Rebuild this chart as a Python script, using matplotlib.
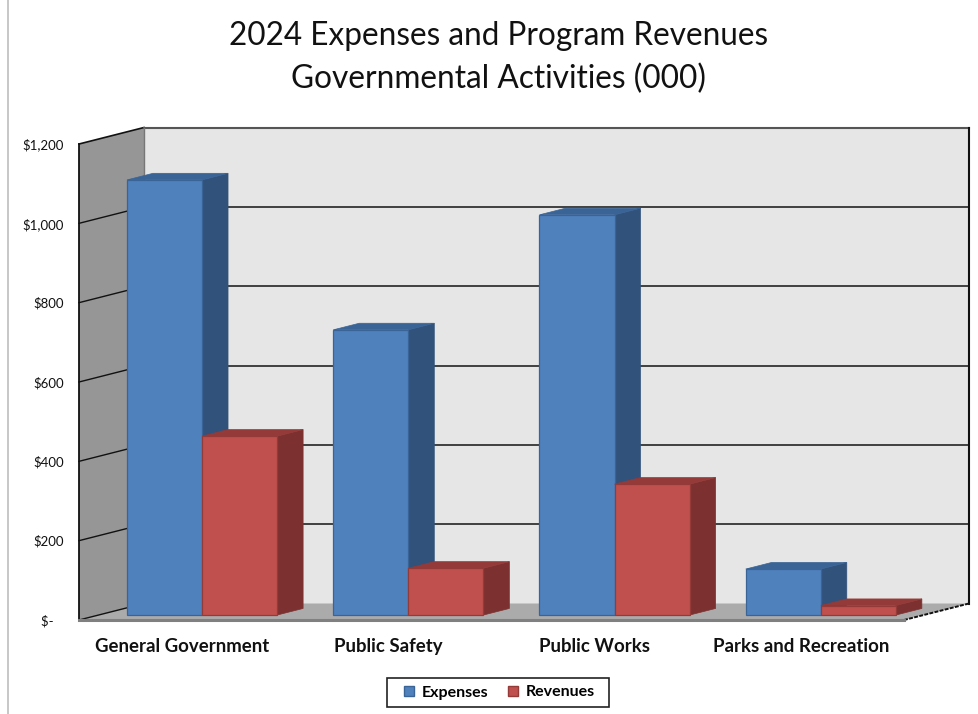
# Pseudo-3D clustered columns for the governmental activities summary

import matplotlib
matplotlib.use("Agg")
import matplotlib.pyplot as plt
from matplotlib.patches import Polygon, Patch, Rectangle

categories = ["General Government", "Public Safety", "Public Works", "Parks and Recreation"]
expenses = [1097, 719, 1009, 116]
revenues = [451, 118, 330, 24]
y_ticks = [0, 200, 400, 600, 800, 1000, 1200]
y_labels = ["$-   ", "$200", "$400", "$600", "$800", "$1,000", "$1,200"]

W, H = 979, 714
plt.rcParams["font.family"] = ["Lato", "DejaVu Sans"]

fig = plt.figure(figsize=(W / 100, H / 100), dpi=100)
# axes box is the front plane of the chart box
ax = fig.add_axes([79 / W, 1 - 620 / H, 825 / W, 476 / H])
ax.set_xlim(0, 4)
ax.set_ylim(0, 1200)

# full depth of the box in data units
DEPTH_X = 65 / 825 * 4
DEPTH_Y = 16.5 / 476 * 1200


def project(x, y, d):
    # oblique projection, d runs 0 (front) to 1 (back)
    return (x + d * DEPTH_X, y + d * DEPTH_Y)


def face(points, **kw):
    kw.setdefault("clip_on", False)
    p = Polygon([project(*pt) for pt in points], closed=True, **kw)
    ax.add_patch(p)
    return p


def line3d(points, **kw):
    xy = [project(*pt) for pt in points]
    ax.plot([q[0] for q in xy], [q[1] for q in xy], clip_on=False, **kw)


# back wall, side wall, floor
face([(0, 0, 1), (4, 0, 1), (4, 1200, 1), (0, 1200, 1)], fc="#e6e6e6", ec="none", zorder=1)
face([(0, 0, 0), (0, 0, 1), (0, 1200, 1), (0, 1200, 0)], fc="#969696", ec="none", zorder=1)
face([(0, 0, 0), (4, 0, 0), (4, 0, 1), (0, 0, 1)], fc="#ababab", ec="none", zorder=1)

# gridlines run along the side wall and across the back
for v in y_ticks[1:-1]:
    line3d([(0, v, 0), (0, v, 1)], color="#111111", lw=1.0, zorder=2)
    line3d([(0, v, 1), (4, v, 1)], color="#333333", lw=1.3, zorder=2)
line3d([(0, 1200, 0), (0, 1200, 1)], color="#111111", lw=1.2, zorder=2)
line3d([(0, 1200, 1), (4, 1200, 1)], color="#555555", lw=1.5, zorder=2)
line3d([(0, 0, 1), (0, 1200, 1)], color="#777777", lw=1.0, zorder=2)
line3d([(0, 0, 0), (0, 1200, 0)], color="#111111", lw=1.3, zorder=2)
line3d([(0, 0, 0), (0, 0, 1)], color="#111111", lw=1.0, zorder=2)
line3d([(4, 0, 1), (4, 1200, 1)], color="#111111", lw=1.5, zorder=2)
line3d([(4, 0, 0), (4, 0, 1)], color="#111111", lw=1.4, ls=(0, (2, 0.7)), zorder=2)
line3d([(0, 0, 0), (4, 0, 0)], color="#808080", lw=2.2, zorder=2)


def column(x0, x1, val, front, side, top, z):
    d0, d1 = 0.3, 0.7
    face([(x1, 0, d0), (x1, 0, d1), (x1, val, d1), (x1, val, d0)], fc=side, ec=side, lw=0.5, zorder=z)
    face([(x0, val, d0), (x1, val, d0), (x1, val, d1), (x0, val, d1)], fc=top, ec=top, lw=0.5, zorder=z)
    face([(x0, 0, d0), (x1, 0, d0), (x1, val, d0), (x0, val, d0)], fc=front, ec=top, lw=0.9, zorder=z + 0.1)


BAR_W = 0.364
for i in range(len(categories)):
    left = i + 0.138
    # draw back-to-front in x so the red block sits over the blue side
    column(left, left + BAR_W, expenses[i], "#4f81bd", "#31527b", "#3a6496", 3 + i * 0.5)
    column(left + BAR_W, left + 2 * BAR_W, revenues[i], "#c0504d", "#7c3130", "#943a38", 3.2 + i * 0.5)

for s in ax.spines.values():
    s.set_visible(False)
ax.patch.set_visible(False)

ax.set_yticks(y_ticks)
ax.set_yticklabels(y_labels, fontsize=9.5, color="#111111")
ax.tick_params(axis="y", length=0, pad=11)

ax.set_xticks([i + 0.5 for i in range(len(categories))])
ax.set_xticklabels(categories, fontsize=13.4, fontweight="bold", color="#111111")
ax.tick_params(axis="x", length=0, pad=13)

# chart area outline on the left
fig.add_artist(plt.Line2D([8.5 / W, 8.5 / W], [0, 1], color="#bdbdbd", lw=1.2))

fig.text(498.5 / W, 1 - 36 / H, "2024 Expenses and Program Revenues", ha="center", va="center",
         fontsize=22.7, color="#111111")
fig.text(498.5 / W, 1 - 79 / H, "Governmental Activities (000)", ha="center", va="center",
         fontsize=22.8, color="#111111")

# legend frame is wider than its entries, so it gets its own box
fig.add_artist(Rectangle((387 / W, 1 - 707 / H), 222 / W, 29 / H, transform=fig.transFigure,
                         fc="white", ec="#222222", lw=1.2))
handles = [Patch(fc="#4f81bd", ec="#3a6496", label="Expenses"),
           Patch(fc="#c0504d", ec="#943a38", label="Revenues")]
fig.legend(handles=handles, ncol=2, loc="center", bbox_to_anchor=(499.5 / W, 1 - 692.5 / H),
           prop={"size": 11.5, "weight": "bold"}, frameon=False,
           handlelength=0.62, handleheight=0.62, handletextpad=0.5,
           columnspacing=1.25, borderpad=0.2)

fig.savefig("out.png", dpi=100)
